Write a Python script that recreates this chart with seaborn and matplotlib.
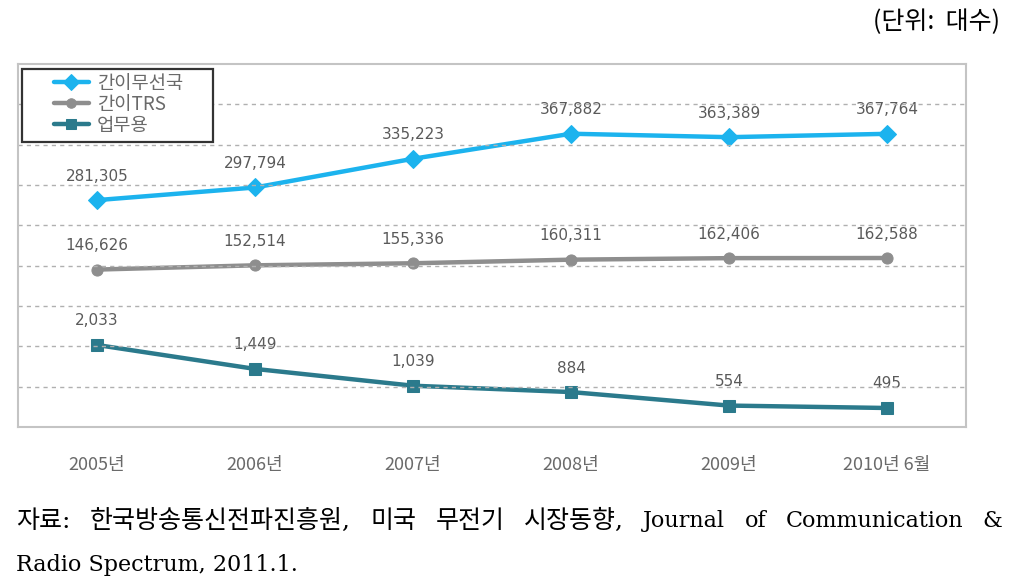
import re
import numpy as np
import pandas as pd
import matplotlib
matplotlib.use("Agg")
import matplotlib.pyplot as plt
from matplotlib.patches import Rectangle
import seaborn as sns

# ── Data ──────────────────────────────────────────────────────────────────────
years = ["2005년", "2006년", "2007년", "2008년", "2009년", "2010년 6월"]
simple_radio = [281305, 297794, 335223, 367882, 363389, 367764]   # 간이무선국
simple_trs   = [146626, 152514, 155336, 160311, 162406, 162588]   # 간이TRS
business     = [2033, 1449, 1039, 884, 554, 495]                  # 업무용

series_names = ["간이무선국", "간이TRS", "업무용"]

df = pd.DataFrame({
    "x": np.arange(len(years)),
    "간이무선국": simple_radio,
    "간이TRS": simple_trs,
    "업무용": business,
})

# ── Style ─────────────────────────────────────────────────────────────────────
sns.set_style("white")
plt.rcParams["font.family"] = ["Noto Sans CJK KR", "DejaVu Sans"]

colors  = {"간이무선국": "#1cb3ee", "간이TRS": "#8e8e8e", "업무용": "#2b7a8c"}
markers = {"간이무선국": "D", "간이TRS": "o", "업무용": "s"}
msizes  = {"간이무선국": 9, "간이TRS": 8, "업무용": 8}
# each series sits in its own band of the chart, so each gets its own y range
ylims   = {"간이무선국": (-14500, 458800), "간이TRS": (-70600, 430300), "업무용": (31, 8892)}

fig = plt.figure(figsize=(10.14, 5.84), dpi=100)
ax = fig.add_axes([18 / 1014, 1 - 427 / 584, 948 / 1014, 363 / 584])

# base axis: frame + dashed grid
ax.set_xlim(-0.5, len(years) - 0.5)
ax.set_ylim(0, 9)
ax.set_yticks(np.arange(1, 9))
ax.set_yticklabels([])
ax.tick_params(axis="y", length=0)
ax.yaxis.grid(True, linestyle=(0, (3, 3)), color="#b0b0b0", linewidth=1.0)
ax.xaxis.grid(False)
for sp in ax.spines.values():
    sp.set_color("#c4c4c4")
    sp.set_linewidth(1.5)
ax.set_xticks(np.arange(len(years)))
ax.set_xticklabels(years, fontsize=13, color="#6a6a6a")
ax.tick_params(axis="x", which="major", length=0, pad=21)
ax.set_xticks(np.arange(len(years) - 1) + 0.5, minor=True)
ax.tick_params(axis="x", which="minor", direction="in", length=7, color="#a0a0a0", width=1.2)

handles = []
for name in series_names:
    tax = ax.twinx()
    sns.lineplot(data=df, x="x", y=name, ax=tax, color=colors[name],
                 marker=markers[name], markersize=msizes[name],
                 markeredgecolor=colors[name], linewidth=3.2)
    tax.set_ylim(*ylims[name])
    tax.set_xlim(-0.5, len(years) - 0.5)
    tax.set_axis_off()
    for xi, v in zip(df["x"], df[name]):
        tax.annotate(f"{v:,}", (xi, v), xytext=(0, 24), textcoords="offset pixels",
                     ha="center", va="center", fontsize=11, color="#5a5a5a",
                     family=["DejaVu Sans"])
    handles.append(tax.lines[0])

ax.set_zorder(1)
ax.patch.set_visible(False)
ax.set_xlabel("")
ax.set_ylabel("")

# legend box (white, dark border) drawn over the grid
box = Rectangle((4 / 948, 1 - 5 / 363), 191 / 948, -73 / 363, transform=ax.transAxes,
                facecolor="white", edgecolor="#333333", linewidth=1.6, zorder=5)
ax.add_patch(box)
leg = ax.legend(handles, series_names, loc="upper left",
                bbox_to_anchor=(36 / 948, 1 - 9 / 363), frameon=False,
                fontsize=13.5, handlelength=1.85, handletextpad=0.45,
                borderpad=0, labelspacing=0.0, borderaxespad=0, markerscale=0.85)
leg.set_zorder(6)
for t in leg.get_texts():
    t.set_color("#6a6a6a")

# ── Texts outside the chart ──────────────────────────────────────────────────
fig.text(1000 / 1014, 1 - 22 / 584, "(단위:  대수)", ha="right", va="center",
         fontsize=18, color="black", family=["Noto Sans CJK KR"])

src_family = ["DejaVu Serif", "Noto Sans CJK KR"]
line1 = "자료: 한국방송통신전파진흥원, 미국 무전기 시장동향, Journal of Communication &"
words = line1.split(" ")
texts = []
for w in words:
    size = 18 if re.search("[가-힣]", w) else 16
    texts.append(fig.text(0, 1 - 521 / 584, w, ha="left", va="center", fontsize=size,
                          color="black", family=src_family))
fig.canvas.draw()
renderer = fig.canvas.get_renderer()
widths = [t.get_window_extent(renderer).width for t in texts]
gap = (986 - sum(widths)) / (len(words) - 1)
xpos = 16
for t, w in zip(texts, widths):
    t.set_x(xpos / 1014)
    xpos += w + gap
fig.text(16 / 1014, 1 - 565 / 584, "Radio Spectrum, 2011.1.",
         ha="left", va="center", fontsize=16, color="black", family=src_family)

plt.savefig("out.png", dpi=100)
plt.close()
